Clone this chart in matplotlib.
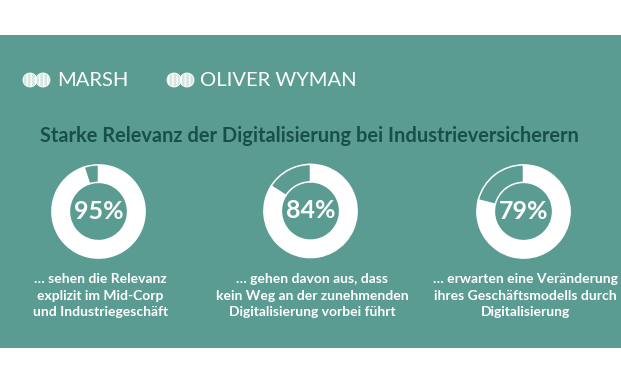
import matplotlib
matplotlib.use("Agg")
import matplotlib.pyplot as plt
from matplotlib.patches import Rectangle, Ellipse

# ---- data ----
values = [95, 84, 79]
value_labels = ["95%", "84%", "79%"]
captions = [
    "… sehen die Relevanz\nexplizit im Mid-Corp\nund Industriegeschäft",
    "… gehen davon aus, dass\nkein Weg an der zunehmenden\nDigitalisierung vorbei führt",
    "… erwarten eine Veränderung\nihres Geschäftsmodells durch\nDigitalisierung",
]
title = "Starke Relevanz der Digitalisierung bei Industrieversicherern"
brands = ["MARSH", "OLIVER WYMAN"]

# ---- style ----
W, H = 621, 383
TEAL = "#5B9C92"
DARK = "#17504B"
WHITE = "#FFFFFF"
FONT = "Lato"

fig = plt.figure(figsize=(W / 100, H / 100), dpi=100)
bg = fig.add_axes([0, 0, 1, 1])
bg.set_xlim(0, W)
bg.set_ylim(H, 0)
bg.axis("off")
bg.add_patch(Rectangle((0, 35), W, 313, facecolor=TEAL, edgecolor="none"))

# logos
brand_x = [57, 200]
icon_x = [23, 167]
for bx, ix, name in zip(brand_x, icon_x, brands):
    for dx in (7, 20):
        bg.add_patch(Ellipse((ix + dx, 80), 14, 14, facecolor="#D5E5E1",
                             edgecolor=WHITE, lw=0.6, hatch="||||"))
    bg.text(bx, 80, name, color=WHITE, fontsize=14.5, family=FONT,
            fontweight="normal", ha="left", va="center")

bg.text(309, 136, title, color=DARK, fontsize=14.4, family=FONT,
        fontweight="bold", ha="center", va="center")

# donuts
centers = [(98.5, 211.5), (310.5, 211), (523.5, 211.5)]
R = 48
for (cx, cy), v, lab, cap in zip(centers, values, value_labels, captions):
    ax = fig.add_axes([(cx - R) / W, 1 - (cy + R) / H, 2 * R / W, 2 * R / H])
    ax.pie([v, 100 - v], startangle=90, counterclock=False,
           colors=[WHITE, TEAL],
           wedgeprops=dict(width=0.375, edgecolor=WHITE, linewidth=1.1))
    ax.set_xlim(-1.03, 1.03)
    ax.set_ylim(-1.03, 1.03)
    ax.set_aspect("equal")
    ax.axis("off")
    ax.text(0, 0, lab, color=WHITE, fontsize=18, family=FONT,
            fontweight="bold", ha="center", va="center")
    bg.text(cx + 2, 295.5, cap, color=WHITE, fontsize=10, family=FONT,
            fontweight="bold", ha="center", va="center", linespacing=1.45)

fig.savefig("out.png", dpi=100)
